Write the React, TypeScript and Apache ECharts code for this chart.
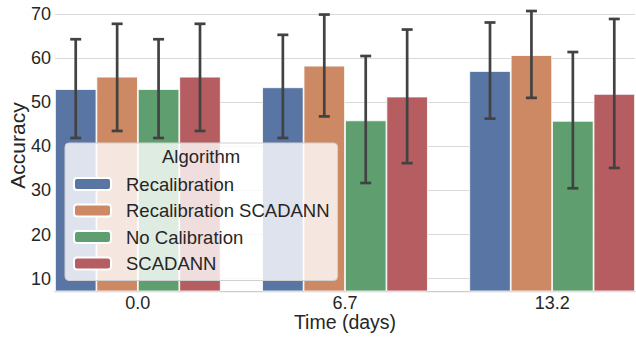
import React, { useEffect, useRef } from "react";
import * as echarts from "echarts";

const categories = ["0.0", "6.7", "13.2"];
const seriesNames = ["Recalibration", "Recalibration SCADANN", "No Calibration", "SCADANN"];
const colors = ["#5975a4", "#cc8963", "#5f9e6e", "#b55d60"];

const recalibration = [53.0, 53.4, 57.1];
const recalibrationScadann = [55.8, 58.3, 60.7];
const noCalibration = [53.0, 45.9, 45.8];
const scadann = [55.8, 51.3, 51.9];

const recalibrationLow = [41.9, 41.9, 46.3];
const recalibrationScadannLow = [43.5, 46.8, 51.0];
const noCalibrationLow = [41.9, 31.7, 30.5];
const scadannLow = [43.5, 36.2, 35.1];

const recalibrationHigh = [64.3, 65.3, 68.1];
const recalibrationScadannHigh = [67.8, 69.9, 70.7];
const noCalibrationHigh = [64.3, 60.5, 61.4];
const scadannHigh = [67.8, 66.5, 68.9];

const means = [recalibration, recalibrationScadann, noCalibration, scadann];
const lows = [recalibrationLow, recalibrationScadannLow, noCalibrationLow, scadannLow];
const highs = [recalibrationHigh, recalibrationScadannHigh, noCalibrationHigh, scadannHigh];
const offsets = [-0.3, -0.1, 0.1, 0.3];

const FONT = "'Liberation Sans', Arial, sans-serif";
const TEXT = "#262626";

export default function App() {
  const ref = useRef<HTMLDivElement>(null);
  useEffect(() => {
    if (!ref.current) return;
    const chart = echarts.init(ref.current, undefined, { renderer: "svg" });

    const barSeries = seriesNames.map((name, i) => ({
      type: "bar",
      name,
      data: categories.map((_, c) => [c, means[i][c]]),
      barGap: "0%",
      barCategoryGap: "20%",
      itemStyle: { color: colors[i], borderColor: "#ffffff", borderWidth: 0.8 },
      z: 2,
    }));

    const errSeries = seriesNames.map((name, i) => ({
      type: "custom",
      name: "err_" + name,
      data: categories.map((_, c) => [c + offsets[i], lows[i][c], highs[i][c]]),
      encode: { x: 0, y: [1, 2] },
      z: 5,
      renderItem: (params: any, api: any) => {
        const x = api.value(0);
        const lo = api.coord([x, api.value(1)]);
        const hi = api.coord([x, api.value(2)]);
        const half = 5.5;
        const style = { stroke: "#424242", lineWidth: 2.7, fill: "none" };
        return {
          type: "group",
          children: [
            { type: "line", shape: { x1: lo[0], y1: lo[1], x2: hi[0], y2: hi[1] }, style },
            { type: "line", shape: { x1: hi[0] - half, y1: hi[1], x2: hi[0] + half, y2: hi[1] }, style },
            { type: "line", shape: { x1: lo[0] - half, y1: lo[1], x2: lo[0] + half, y2: lo[1] }, style },
          ],
        };
      },
    }));

    chart.setOption({
      animation: false,
      backgroundColor: "#ffffff",
      textStyle: { fontFamily: FONT },
      grid: { left: 55, right: 1, top: 0, bottom: 46, containLabel: false, outerBoundsMode: "none" },
      xAxis: {
        type: "value",
        min: -0.4,
        max: 2.4,
        minInterval: 1,
        maxInterval: 1,
        splitNumber: 3,
        name: "Time (days)",
        nameLocation: "middle",
        nameGap: 21,
        nameMoveOverlap: false,
        nameTextStyle: { fontSize: 19.5, lineHeight: 19.5, color: TEXT, fontFamily: FONT },
        axisLine: { show: true, lineStyle: { color: "#cccccc", width: 1.25 } },
        axisTick: { show: false },
        splitLine: { show: false },
        axisLabel: {
          show: true,
          showMinLabel: false,
          showMaxLabel: false,
          margin: 2.5,
          fontSize: 18,
          lineHeight: 18,
          color: TEXT,
          fontFamily: FONT,
          formatter: (v: number) => {
            const r = Math.round(v);
            return Math.abs(v - r) < 1e-6 && categories[r] !== undefined ? categories[r] : "";
          },
        },
      },
      yAxis: {
        type: "value",
        min: 7.2,
        max: 73.2,
        minInterval: 10,
        maxInterval: 10,
        name: "Accuracy",
        nameLocation: "middle",
        nameGap: 27,
        nameMoveOverlap: false,
        nameTextStyle: { fontSize: 21, color: TEXT, fontFamily: FONT },
        axisLine: { show: false },
        axisTick: { show: false },
        splitLine: {
          show: true,
          showMinLine: false,
          showMaxLine: false,
          lineStyle: { color: "#d9d9d9", width: 1.2 },
        },
        axisLabel: {
          showMinLabel: false,
          showMaxLabel: false,
          margin: 4,
          fontSize: 18,
          color: TEXT,
          fontFamily: FONT,
        },
      },
      legend: {
        data: seriesNames,
        orient: "vertical",
        left: 65,
        top: 143,
        padding: [31, 8, 7, 8],
        itemGap: 6.5,
        itemWidth: 37,
        itemHeight: 12,
        backgroundColor: "rgba(255,255,255,0.8)",
        borderColor: "#d0d0d0",
        borderWidth: 1,
        borderRadius: 4,
        selectedMode: false,
        textStyle: {
          fontSize: 18.5,
          color: TEXT,
          fontFamily: FONT,
          lineHeight: 20,
          padding: [0, 0, 0, 10],
        },
      },
      graphic: [
        {
          type: "text",
          left: 162,
          top: 147,
          z: 100,
          style: {
            text: "Algorithm",
            fontSize: 18.5,
            fill: TEXT,
            fontFamily: FONT,
          },
        },
      ],
      series: [...barSeries, ...errSeries],
    });

    return () => chart.dispose();
  }, []);

  return (
    <div
      ref={ref}
      style={{ position: "absolute", left: 0, top: 0, width: 636, height: 337 }}
    />
  );
}
